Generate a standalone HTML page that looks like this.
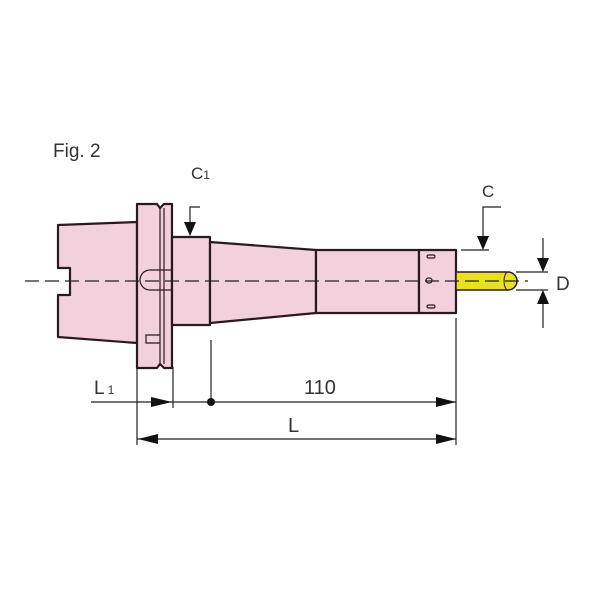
<!DOCTYPE html>
<html><head><style>body{margin:0;background:#fff}svg{display:block}text{font-family:"Liberation Sans",sans-serif;fill:#333}</style></head>
<body>
<svg width="600" height="600" viewBox="0 0 600 600" xmlns="http://www.w3.org/2000/svg">
<rect width="600" height="600" fill="#fff"/>
<g fill="#f2d0dc" stroke="#2a1a1e" stroke-width="2.2" stroke-linejoin="round">
<path d="M58,225 L137,222 L137,343 L58,337 L58,295 L70,295 L70,268 L58,268 Z"/>
<path d="M137,204 L157,204 L160,208 L164,204 L172,204 L172,368 L164,368 L160,364 L157,368 L137,368 Z"/>
<path d="M172,237 L210,237 L210,325 L172,325 Z"/>
<path d="M210,242 L316,250 L316,313 L210,323 Z"/>
<path d="M316,250 L419,250 L419,313 L316,313 Z"/>
<path d="M419,250 L456,250 L456,313 L419,313 Z"/>
</g>
<g fill="none" stroke="#2a1a1e" stroke-width="1.2">
<line x1="160" y1="208" x2="160" y2="364"/>
<line x1="164" y1="208" x2="164" y2="364"/>
<path d="M172,270 L150,270 A10,10 0 0 0 150,290 L172,290"/>
<path d="M160,335 L146,335 L146,343 L160,343"/>
<rect x="427" y="255" width="8" height="3" rx="1.5"/>
<rect x="427" y="305" width="8" height="3" rx="1.5"/>
<rect x="426" y="278" width="6" height="5" rx="2.5"/>
</g>
<path d="M456,272 L508,272 A9,9 0 0 1 508,290 L456,290 Z" fill="#e8e020" stroke="#2a1a1e" stroke-width="1.5"/>
<path d="M508,272 A4,9 0 0 0 508,290" fill="none" stroke="#2a1a1e" stroke-width="1"/>
<line x1="25" y1="281" x2="528" y2="281" stroke="#222" stroke-width="1.2" stroke-dasharray="14,6"/>
<g stroke="#222" stroke-width="1.2" fill="none">
<line x1="137" y1="367" x2="137" y2="445"/>
<line x1="173" y1="367" x2="173" y2="408"/>
<line x1="211" y1="340" x2="211" y2="402"/>
<line x1="456" y1="318" x2="456" y2="445"/>
<line x1="91" y1="402" x2="456" y2="402"/>
<line x1="137" y1="439" x2="456" y2="439"/>
<polyline points="200,207 190,207 190,228"/>
<polyline points="501,207 483,207 483,243"/>
<line x1="461" y1="250" x2="489" y2="250"/>
<line x1="516" y1="272" x2="548" y2="272"/>
<line x1="516" y1="290" x2="548" y2="290"/>
<line x1="543" y1="238" x2="543" y2="266"/>
<line x1="543" y1="296" x2="543" y2="328"/>
</g>
<g fill="#111">
<polygon points="184,222 196,222 190,236"/>
<polygon points="477,236 489,236 483,250"/>
<polygon points="537,258 549,258 543,272"/>
<polygon points="537,304 549,304 543,290"/>
<polygon points="151,397 151,407 172,402"/>
<polygon points="436,397 436,407 456,402"/>
<polygon points="436,434 436,444 456,439"/>
<polygon points="158,434 158,444 138,439"/>
<circle cx="211" cy="402" r="4"/>
</g>
<text x="53" y="157" font-size="19">Fig. 2</text>
<text x="191" y="179" font-size="17">C<tspan font-size="12">1</tspan></text>
<text x="482" y="197" font-size="17">C</text>
<text x="556" y="290" font-size="19">D</text>
<text x="94" y="394" font-size="19">L<tspan font-size="12" dx="3">1</tspan></text>
<text x="304" y="394" font-size="20">110</text>
<text x="288" y="432" font-size="20">L</text>
</svg>
</body></html>
